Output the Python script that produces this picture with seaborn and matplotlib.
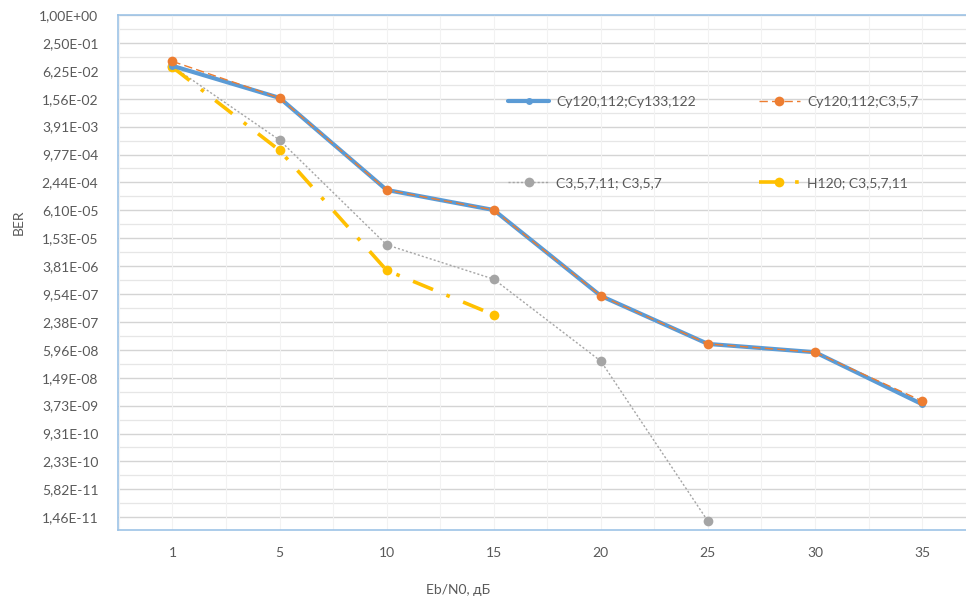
import numpy as np
import pandas as pd
import matplotlib
matplotlib.use("Agg")
import matplotlib.pyplot as plt
import seaborn as sns

# ---- data ----
ebno = ["1", "5", "10", "15", "20", "25", "30", "35"]

ber_cy_cy = [8.0e-02, 1.63e-02, 1.68e-04, 6.2e-05, 8.7e-07, 8.0e-08, 5.3e-08, 4.0e-09]
ber_cy_c = [1.0e-01, 1.63e-02, 1.68e-04, 6.2e-05, 8.7e-07, 8.0e-08, 5.3e-08, 4.7e-09]
ber_c_c = [7.8e-02, 2.0e-03, 1.1e-05, 2.0e-06, 3.4e-08, 1.2e-11]
ber_h_c = [7.5e-02, 1.2e-03, 3.1e-06, 3.4e-07]

series_names = ["Cy120,112;Cy133,122", "Cy120,112;C3,5,7", "C3,5,7,11; C3,5,7", "H120; C3,5,7,11"]

# y ticks: powers of 1/4 like the Excel axis
ytick_vals = 4.0 ** -np.arange(19)
ytick_labels = [f"{v:.2E}".replace(".", ",") for v in ytick_vals]

sns.set_theme(style="white")
plt.rcParams['font.family'] = ['Lato', 'DejaVu Sans']

fig = plt.figure(figsize=(9.66, 6.01), dpi=100)
ax = fig.add_axes([0.122, 0.118, 0.878, 0.857])

pos = np.arange(len(ebno))

# grid
for k in range(19):
    ax.axhline(4.0 ** -k, color="#d4d4d4", lw=1.0, zorder=0)
    ax.axhline(4.0 ** -(k + 0.5), color="#e6e6e6", lw=0.9, zorder=0)
for p in np.arange(-0.5, 8, 0.5):
    ax.axvline(p, color="#f2f2f2", lw=0.8, zorder=0)

sns.lineplot(x=pos, y=ber_cy_cy, ax=ax, color="#5b9bd5", lw=3.0,
             marker="o", markersize=5, markeredgewidth=0, label=series_names[0], zorder=3)
sns.lineplot(x=pos, y=ber_cy_c, ax=ax, color="#ed7d31", lw=1.0, linestyle=(0, (6, 3)),
             marker="o", markersize=7, markeredgewidth=0, label=series_names[1], zorder=4)
sns.lineplot(x=pos[:len(ber_c_c)], y=ber_c_c, ax=ax, color="#a5a5a5", lw=1.0, linestyle=(0, (1.5, 1.5)),
             marker="o", markersize=7, markeredgewidth=0, label=series_names[2], zorder=2)
sns.lineplot(x=pos[:len(ber_h_c)], y=ber_h_c, ax=ax, color="#ffc000", lw=2.6, linestyle=(0, (6, 4, 1, 4)),
             marker="o", markersize=7, markeredgewidth=0, label=series_names[3], zorder=2)

ax.set_yscale("log")
ax.set_ylim(4.0 ** -18.46, 1.0)
ax.set_xlim(-0.51, 7.41)
ax.set_yticks(ytick_vals)
ax.set_yticklabels(ytick_labels)
ax.minorticks_off()
ax.set_xticks(pos)
ax.set_xticklabels(ebno)
ax.tick_params(axis="both", length=0, labelsize=10, colors="#595959", pad=14)
ax.tick_params(axis="x", pad=12)

for side in ["left", "bottom", "top"]:
    ax.spines[side].set_color("#9dc3e6")
    ax.spines[side].set_linewidth(1.2)
ax.spines["right"].set_visible(False)

ax.set_xlabel("")
ax.set_ylabel("")
fig.text(0.019, 0.63, "BER", rotation=90, fontsize=10, color="#595959", ha="center", va="center")
fig.text(0.474, 0.018, "Eb/N0, дБ", fontsize=10, color="#595959", ha="center", va="center")

# reorder so rows read like the reference (matplotlib fills columns first)
handles, labels = ax.get_legend_handles_labels()
order = [0, 2, 1, 3]
leg = ax.legend([handles[i] for i in order], [labels[i] for i in order],
                ncol=2, loc="upper left", bbox_to_anchor=(0.445, 0.868), frameon=False,
                fontsize=10, labelspacing=5.0, columnspacing=4.5, handlelength=3.0,
                handletextpad=0.5, labelcolor="#595959")

fig.savefig("out.png", dpi=100)
